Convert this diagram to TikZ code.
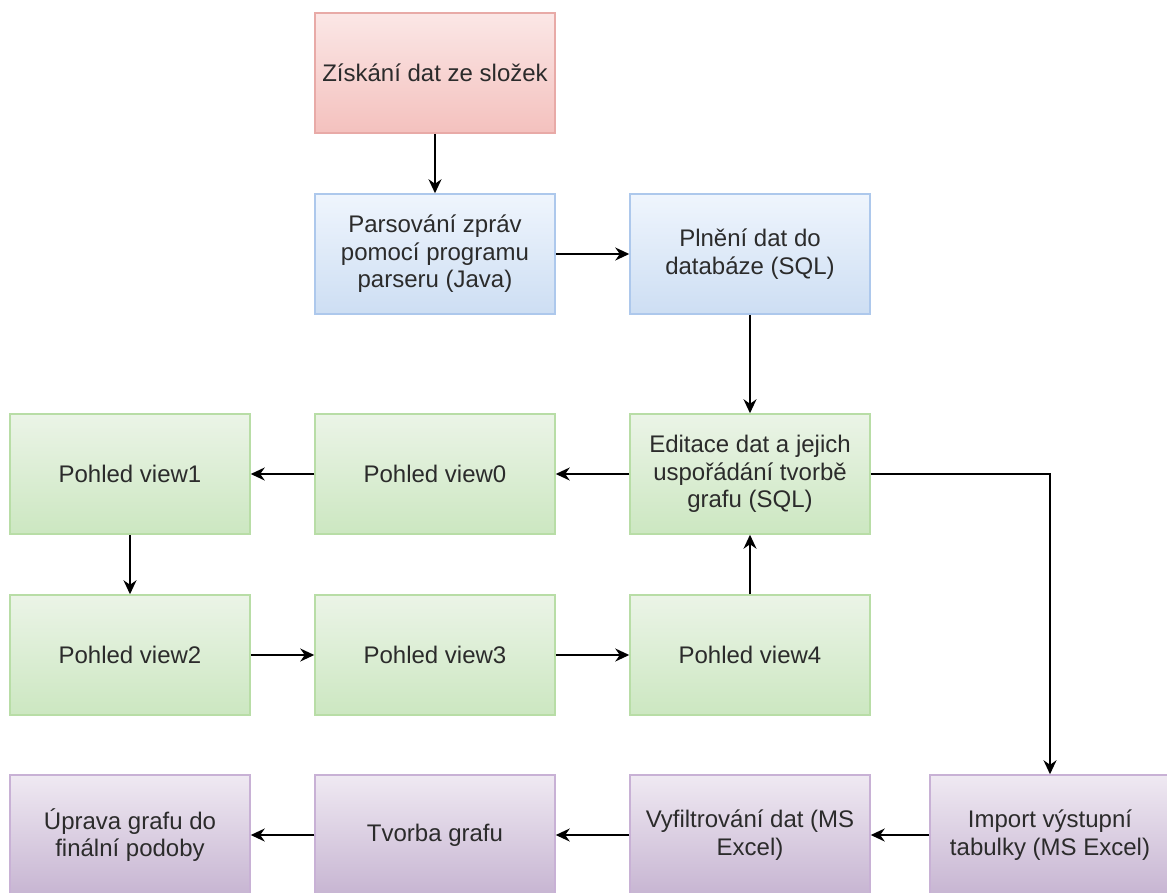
\documentclass[tikz,border=0pt]{standalone}
\usepackage{fontspec}
\setmainfont{Liberation Sans}
\usetikzlibrary{arrows.meta}

\definecolor{redtop}{HTML}{FBE7E6}
\definecolor{redbottom}{HTML}{F4C1BE}
\definecolor{redline}{HTML}{E8AAA7}
\definecolor{bluetop}{HTML}{EFF5FD}
\definecolor{bluebottom}{HTML}{CDDEF3}
\definecolor{blueline}{HTML}{ADC8EC}
\definecolor{greentop}{HTML}{EBF4E7}
\definecolor{greenbottom}{HTML}{CCE7C1}
\definecolor{greenline}{HTML}{B8DDA6}
\definecolor{purpletop}{HTML}{EFE9F2}
\definecolor{purplebottom}{HTML}{C7B5D2}
\definecolor{purpleline}{HTML}{C8B1D5}
\definecolor{textgray}{HTML}{2B2B2B}

\begin{document}
\begin{tikzpicture}[
		x = 1pt, y = -1pt,
		line width = 2pt,
		>={Stealth[length=14pt, width=13pt]},
		every node/.style = {draw, rectangle, line width = 1.5pt,
			minimum width = 240pt, minimum height = 120pt,
			align = center, text = textgray,
			font = \fontsize{24}{27.5}\selectfont},
		redbox/.style = {draw = redline, top color = redtop, bottom color = redbottom},
		bluebox/.style = {draw = blueline, top color = bluetop, bottom color = bluebottom},
		greenbox/.style = {draw = greenline, top color = greentop, bottom color = greenbottom},
		purplebox/.style = {draw = purpleline, top color = purpletop, bottom color = purplebottom}
		]
		\clip (0,0) rectangle (1167,892);
		% first two rows
		\node[redbox] (ziskani) at (435,73) {Získání dat ze složek};
		\node[bluebox] (parsovani) at (435,254) {Parsování zpráv\\pomocí programu\\parseru (Java)};
		\node[bluebox] (plneni) at (750,254) {Plnění dat do\\databáze (SQL)};
		% views
		\node[greenbox] (editace) at (750,474) {Editace dat a jejich\\uspořádání tvorbě\\grafu (SQL)};
		\node[greenbox] (view0) at (435,474) {Pohled view0};
		\node[greenbox] (view1) at (130,474) {Pohled view1};
		\node[greenbox] (view2) at (130,655) {Pohled view2};
		\node[greenbox] (view3) at (435,655) {Pohled view3};
		\node[greenbox] (view4) at (750,655) {Pohled view4};
		% output
		\node[purplebox] (import) at (1050,835) {Import výstupní\\tabulky (MS Excel)};
		\node[purplebox] (vyfiltrovani) at (750,835) {Vyfiltrování dat (MS\\Excel)};
		\node[purplebox] (tvorba) at (435,835) {Tvorba grafu};
		\node[purplebox] (uprava) at (130,835) {Úprava grafu do\\finální podoby};
		% Arrows
		\draw[->] (ziskani) -- (parsovani);
		\draw[->] (parsovani) -- (plneni);
		\draw[->] (plneni) -- (editace);
		\draw[->] (editace) -- (view0);
		\draw[->] (view0) -- (view1);
		\draw[->] (view1) -- (view2);
		\draw[->] (view2) -- (view3);
		\draw[->] (view3) -- (view4);
		\draw[->] (view4) -- (editace);
		\draw[->] (editace.east) -| (import.north);
		\draw[->] (import) -- (vyfiltrovani);
		\draw[->] (vyfiltrovani) -- (tvorba);
		\draw[->] (tvorba) -- (uprava);
	\end{tikzpicture}
\end{document}
